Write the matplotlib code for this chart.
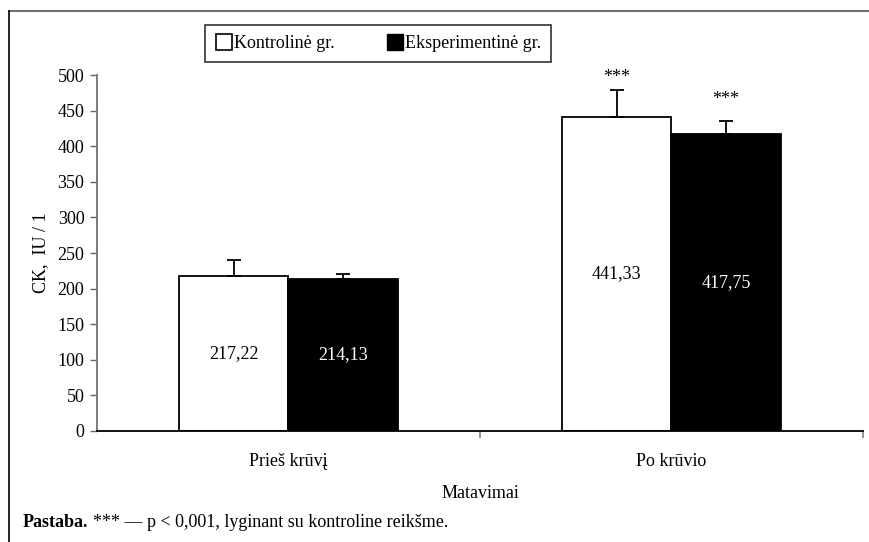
import numpy as np
import matplotlib
matplotlib.use("Agg")
import matplotlib.pyplot as plt
from matplotlib.lines import Line2D

plt.rcParams["font.family"] = ["Liberation Serif", "DejaVu Serif"]

CATEGORIES = ["Prieš krūvį", "Po krūvio"]
CONTROL = [217.22, 441.33]
CONTROL_ERR = [23, 38]
EXPERIMENT = [214.13, 417.75]
EXPERIMENT_ERR = [6, 17]
CONTROL_SIG = ["", "***"]
EXPERIMENT_SIG = ["", "***"]
SERIES = ["Kontrolinė gr.", "Eksperimentinė gr."]
YTICKS = list(range(0, 501, 50))


def fmt(v):
    return f"{v:.2f}".replace(".", ",")


fig = plt.figure(figsize=(8.69, 5.42), dpi=100)
ax = fig.add_axes([0.1116, 0.2048, 0.8815, 0.6568])

x = np.arange(len(CATEGORIES))
w = 0.285
fs = 13

ax.bar(x - w / 2, CONTROL, w, color="white", edgecolor="black", linewidth=1.3, zorder=2)
ax.bar(x + w / 2, EXPERIMENT, w, color="black", edgecolor="black", linewidth=1.3, zorder=2)
ax.errorbar(x - w / 2, CONTROL, yerr=[np.zeros(len(x)), CONTROL_ERR], fmt="none",
            ecolor="black", elinewidth=1.3, capsize=5, capthick=1.3, zorder=3)
ax.errorbar(x + w / 2, EXPERIMENT, yerr=[np.zeros(len(x)), EXPERIMENT_ERR], fmt="none",
            ecolor="black", elinewidth=1.3, capsize=5, capthick=1.3, zorder=3)

for i in range(len(x)):
    ax.text(x[i] - w / 2, CONTROL[i] / 2, fmt(CONTROL[i]), ha="center", va="center",
            fontsize=fs, color="black")
    ax.text(x[i] + w / 2, EXPERIMENT[i] / 2, fmt(EXPERIMENT[i]), ha="center", va="center",
            fontsize=fs, color="white")
    if CONTROL_SIG[i]:
        ax.annotate(CONTROL_SIG[i], (x[i] - w / 2, CONTROL[i] + CONTROL_ERR[i]),
                    xytext=(0, 3), textcoords="offset points", ha="center", va="bottom",
                    fontsize=fs)
    if EXPERIMENT_SIG[i]:
        ax.annotate(EXPERIMENT_SIG[i], (x[i] + w / 2, EXPERIMENT[i] + EXPERIMENT_ERR[i]),
                    xytext=(0, 9.5), textcoords="offset points", ha="center", va="bottom",
                    fontsize=fs)

ax.set_xlim(-0.5, 1.5)
ax.set_ylim(0, 500)
ax.set_yticks(YTICKS)
ax.set_yticklabels([str(t) for t in YTICKS], fontsize=fs)
ax.set_xticks(x)
ax.set_xticklabels(CATEGORIES, fontsize=fs)
ax.tick_params(axis="x", length=0, pad=16)
ax.set_xticks([0.5, 1.5], minor=True)
ax.tick_params(axis="x", which="minor", length=5, direction="out", color="0.5", width=1.2)
ax.tick_params(axis="y", length=5, direction="out", color="0.4", width=1.0, pad=4)
ax.spines["top"].set_visible(False)
ax.spines["right"].set_visible(False)
ax.spines["left"].set_color("0.45")
ax.spines["left"].set_linewidth(1.3)
ax.spines["bottom"].set_linewidth(1.3)
ax.set_ylabel("CK,  IU / 1", fontsize=fs, labelpad=6)
ax.set_xlabel("Matavimai", fontsize=fs, labelpad=11)

handles = [
    Line2D([], [], marker="s", ms=11, mfc="white", mec="black", mew=1.2, ls="none", label=SERIES[0]),
    Line2D([], [], marker="s", ms=11, mfc="black", mec="black", ls="none", label=SERIES[1]),
]
leg = fig.legend(handles=handles, loc="center", bbox_to_anchor=(0.435, 0.919), ncol=2,
                 fontsize=fs, frameon=True, fancybox=False, edgecolor="black",
                 handletextpad=0.1, columnspacing=2.8, handlelength=1.0, borderpad=0.55)
leg.get_frame().set_linewidth(1.2)

# outer frame: top and left edges only
fig.add_artist(Line2D([0.0098, 1.0], [0.979, 0.979], transform=fig.transFigure,
                      color="0.45", lw=1.5))
fig.add_artist(Line2D([0.0098, 0.0098], [0.0, 0.979], transform=fig.transFigure,
                      color="black", lw=1.2))

fig.text(0.0265, 0.028, "Pastaba.", fontsize=fs, fontweight="bold", va="baseline")
fig.text(0.107, 0.028, "*** — p < 0,001, lyginant su kontroline reikšme.",
         fontsize=fs, va="baseline")

fig.savefig("out.png", dpi=100)
